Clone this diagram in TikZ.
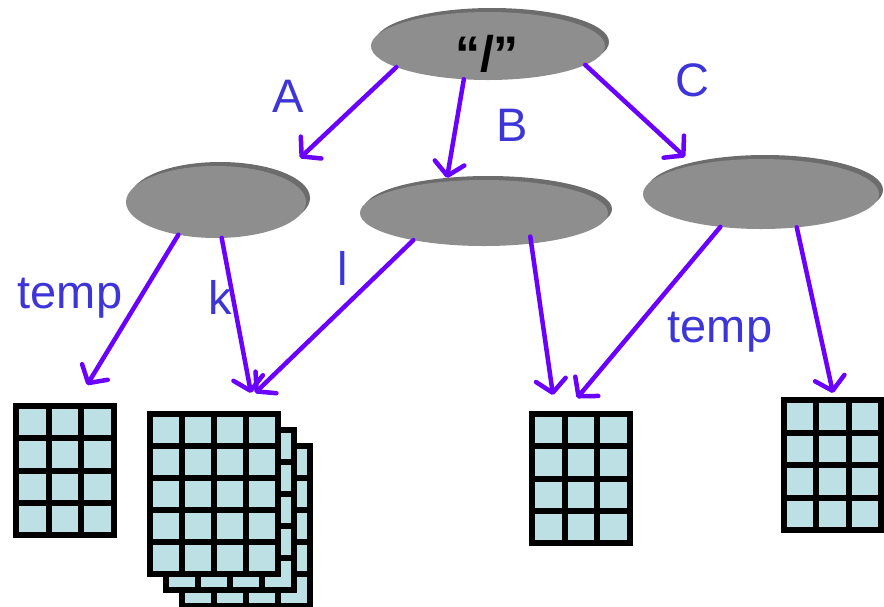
\documentclass[tikz,border=0pt]{standalone}
\usepackage{fontspec}
\setmainfont{Liberation Sans}
\usetikzlibrary{arrows.meta,shapes.geometric}
\definecolor{arrowc}{HTML}{6A00FF}
\definecolor{labelc}{HTML}{3D35D8}
\definecolor{cellc}{HTML}{BCE0E3}
\definecolor{discc}{HTML}{8E8E8E}
\definecolor{rimc}{HTML}{6C6C6C}
\tikzset{
  disc/.style={ellipse, fill=discc, inner sep=0pt, outer sep=0pt},
  rim/.style={ellipse, fill=rimc, inner sep=0pt, outer sep=0pt},
  arr/.style={draw=arrowc, line width=4.5pt, line cap=round, -{Straight Barb[length=13pt,width=30pt,round]}},
  lbl/.style={text=labelc, font=\fontsize{47}{47}\selectfont, inner sep=0pt},
  gridline/.style={line width=6pt, line cap=rect, draw=black}
}
\newcommand{\gridtbl}[7]{% name, x0, y0, w, h, cols, rows
  \pgfmathsetmacro{\gsx}{#4/#6}\pgfmathsetmacro{\gsy}{#5/#7}
  \node[inner sep=0pt, outer sep=0pt, minimum width=#4pt, minimum height=#5pt, anchor=north west, fill=cellc] (#1) at (#2,#3) {};
  \foreach \i in {0,...,#6} \draw[gridline] (#2+\i*\gsx, #3) -- (#2+\i*\gsx, #3+#5);
  \foreach \j in {0,...,#7} \draw[gridline] (#2, #3+\j*\gsy) -- (#2+#4, #3+\j*\gsy);
}
\begin{document}
\begin{tikzpicture}[x=1pt,y=-1pt]
\useasboundingbox (0,0) rectangle (884,606);
% discs
\node[rim, minimum width=234pt, minimum height=68pt] (rootrim) at (492,42) {};
\node[disc, minimum width=234pt, minimum height=68pt] (root) at (488,46) {};
\node[font=\fontsize{50}{50}\selectfont\bfseries, inner sep=0pt] (rootlbl) at (487,54) {“/”};
\node[rim, minimum width=180pt, minimum height=72pt] (dArim) at (220,198) {};
\node[disc, minimum width=180pt, minimum height=72pt] (dA) at (216,202) {};
\node[rim, minimum width=248pt, minimum height=66pt] (dBrim) at (488,209) {};
\node[disc, minimum width=248pt, minimum height=66pt] (dB) at (484,213) {};
\node[rim, minimum width=236pt, minimum height=70pt] (dCrim) at (765,190) {};
\node[disc, minimum width=236pt, minimum height=70pt] (dC) at (761,194) {};
% tables
\gridtbl{t1}{16}{406}{98}{129}{3}{4}
\gridtbl{t2c}{182}{446}{128}{160}{4}{5}
\gridtbl{t2b}{166}{430}{128}{160}{4}{5}
\gridtbl{t2}{150}{414}{128}{160}{4}{5}
\gridtbl{t3}{532}{414}{98}{129}{3}{4}
\gridtbl{t4}{784}{400}{97}{130}{3}{4}
% arrow ends
\coordinate (eA) at (300,158);
\coordinate (eB) at (447,178);
\coordinate (eC) at (685,157);
\coordinate (e1) at (87,385);
\coordinate (e2) at (251,393);
\coordinate (e3) at (255,393);
\coordinate (e4) at (553,395);
\coordinate (e5) at (577,398);
\coordinate (e6) at (833,393);
% arrows
\draw[arr] (root.193) -- (eA);
\draw[arr] (root.234) -- (eB);
\draw[arr] (root.349) -- (eC);
\draw[arr] (dA.221) -- (e1);
\draw[arr] (dA.279) -- (e2);
\draw[arr] (dB.201) -- (e3);
\draw[arr] ([shift={(10,-8)}]dB.319) -- (e4);
\draw[arr] (dC.219) -- (e5);
\draw[arr] (dC.317) -- (e6);
% labels
\node[lbl] (lA) at (288,96) {A};
\node[lbl] (lB) at (512,125) {B};
\node[lbl] (lC) at (692,80) {C};
\node[lbl] (lt1) at (70,298) {temp};
\node[lbl] (lk) at (220,297) {k};
\node[lbl] (ll) at (343,268) {l};
\node[lbl] (lt2) at (720,332) {temp};
\end{tikzpicture}
\end{document}
